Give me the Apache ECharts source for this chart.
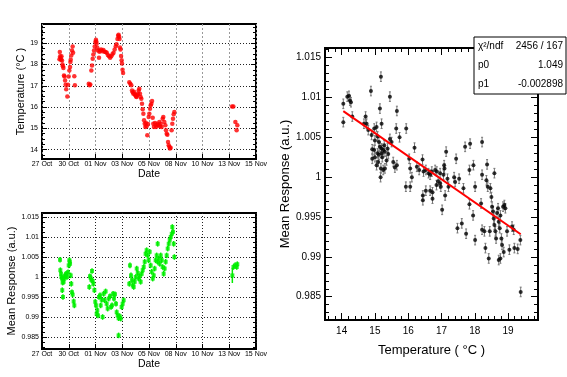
<!DOCTYPE html>
<html>
<head>
<meta charset="utf-8">
<script src="https://cdn.jsdelivr.net/npm/echarts@6/dist/echarts.min.js"></script>
<style>
  html, body { margin: 0; padding: 0; background: #fff; }
  #chart { width: 567px; height: 377px; }
</style>
</head>
<body>
<div id="chart"></div>
<script>
  // date axis: 9 labels, evenly spaced over 19 days
  const dateLabels = ["27 Oct", "30 Oct", "01 Nov", "03 Nov", "05 Nov", "08 Nov", "10 Nov", "13 Nov", "15 Nov"];
  const dateSpan = 19;
  const tempTicks = [14, 15, 16, 17, 18, 19];
  const respTicks = [0.985, 0.99, 0.995, 1, 1.005, 1.01, 1.015];

  // temperature vs time (days since 27 Oct)
  const tempDays = [
    1.55, 1.58, 1.61, 1.65, 1.69, 1.73, 1.78, 1.82, 1.86, 1.90, 1.95, 2.00, 2.05, 2.10, 2.15, 2.25, 2.31, 2.37, 2.43, 2.49,
    2.52, 2.55, 2.60, 2.66, 2.72, 2.76, 2.87, 2.92,
    4.15, 4.23, 4.29, 4.38, 4.44, 4.50, 4.56, 4.62, 4.68, 4.74, 4.79, 4.82, 4.85, 4.91, 4.97, 5.06, 5.10, 5.15, 5.25, 5.35,
    5.45, 5.55, 5.65, 5.75, 5.85, 5.95, 6.05, 6.15, 6.25, 6.35, 6.45, 6.55, 6.62, 6.70, 6.76, 6.80, 6.85, 6.88, 6.92, 6.97,
    7.02, 7.07, 7.10, 7.15, 7.20,
    7.75, 7.84, 7.93, 7.99, 8.05, 8.11, 8.17, 8.23, 8.29, 8.35, 8.40, 8.46, 8.52, 8.58, 8.64, 8.70, 8.76, 8.82, 8.88, 8.94,
    9.00, 9.06, 9.12, 9.18, 9.23, 9.29, 9.35, 9.41, 9.47, 9.53, 9.59, 9.65, 9.71, 9.77, 9.83, 9.88, 9.94, 10.03, 10.12, 10.18,
    10.24, 10.33, 10.42, 10.48, 10.54, 10.62, 10.71, 10.77, 10.86, 10.95, 11.01, 11.07, 11.13, 11.19, 11.25, 11.31, 11.36, 11.42, 11.51, 11.57,
    11.63, 11.69, 11.75,
    16.87, 16.99, 17.17, 17.28, 17.34
  ];
  const tempVals = [
    18.25, 18.58, 18.39, 18.3, 18.22, 18.38, 18.19, 18.0, 17.91, 17.83, 17.48, 17.44, 17.25, 17.05, 16.84, 16.5, 17.05, 17.44, 17.72, 17.88,
    18.11, 18.22, 18.42, 18.66, 18.84, 18.55, 17.45, 17.02,
    17.09, 17.02, 17.06, 17.72, 17.95, 18.27, 18.47, 18.66, 18.84, 19.05, 19.16, 19.08, 18.97, 18.78, 18.65, 18.31, 18.6, 18.65, 18.7, 18.62,
    18.68, 18.6, 18.58, 18.55, 18.45, 18.38, 18.32, 18.38, 18.48, 18.55, 18.7, 18.85, 18.95, 19.2, 19.35, 19.4, 19.3, 19.2, 18.8, 18.7,
    18.4, 18.2, 18.05, 17.75, 17.6,
    17.17, 17.09, 17.02, 16.78, 16.7, 16.63, 16.72, 16.6, 16.55, 16.5, 16.47, 16.55, 16.63, 16.78, 16.86, 16.62, 16.47, 16.39, 16.16, 15.9,
    15.69, 15.38, 15.22, 15.06, 15.25, 15.1, 14.67, 15.2, 15.53, 15.69, 15.92, 16.08, 16.16, 16.28, 15.5, 15.22, 15.06, 15.25, 15.06, 15.15,
    15.22, 15.14, 15.3, 15.1, 15.22, 15.06, 15.45, 15.53, 15.3, 15.14, 14.91, 14.75, 14.7, 14.36, 14.2, 14.13, 14.05, 14.09, 14.91, 15.22,
    15.45, 15.66, 15.77,
    16.02, 16.03, 15.3, 14.91, 15.15
  ];

  // mean response vs time
  const respDays = [
    1.60, 1.63, 1.69, 1.72, 1.78, 1.80, 1.83, 1.86, 1.92, 1.98, 2.04, 2.07, 2.13, 2.22, 2.31, 2.37, 2.43, 2.46, 2.49, 2.55,
    2.60, 2.66, 2.72, 2.81, 2.87,
    4.20, 4.26, 4.32, 4.38, 4.44, 4.50, 4.56, 4.65, 4.73, 4.79, 4.85, 4.91, 4.97, 5.06, 5.15, 5.21, 5.30, 5.38, 5.47, 5.56,
    5.65, 5.74, 5.83, 5.92, 6.04, 6.13, 6.22, 6.31, 6.39, 6.48, 6.57, 6.63, 6.72, 6.80, 6.80, 6.90, 6.99, 7.07, 7.16, 7.25,
    7.75, 7.81, 7.90, 7.99, 8.05, 8.14, 8.23, 8.32, 8.41, 8.50, 8.58, 8.67, 8.76, 8.85, 8.94, 9.03, 9.12, 9.20, 9.29, 9.38,
    9.47, 9.56, 9.65, 9.74, 9.83, 9.92, 10.00, 10.09, 10.18, 10.27, 10.27, 10.36, 10.45, 10.54, 10.63, 10.71, 10.80, 10.89, 10.98, 11.07,
    11.16, 11.25, 11.34, 11.43, 11.52, 11.57, 11.63, 11.69, 11.75,
    17.00, 17.14, 17.29, 17.34
  ];
  const respVals = [
    1.0043, 1.0017, 1.0008, 1.0000, 0.9996, 0.9967, 0.9986, 0.9950, 0.9988, 0.9996, 1.0002, 1.0004, 1.0008, 1.0000, 1.0012, 1.0029, 1.0042, 1.0038, 1.0033, 1.0004,
    0.9983, 0.9962, 0.9956, 0.9939, 0.9929,
    0.9975, 1.0002, 0.9998, 0.9993, 1.0015, 0.9990, 0.9983, 0.9967, 0.9938, 0.9929, 0.9908, 0.9917, 0.9904, 0.9950, 0.9954, 0.9929, 0.9943, 0.9900, 0.9958, 0.9942,
    0.9964, 0.9933, 0.9921, 0.9946, 0.9952, 0.9925, 0.9929, 0.9958, 0.9946, 0.9957, 0.9933, 0.9912, 0.9904, 0.9897, 0.9854, 0.9902, 0.9896, 0.9925, 0.9933, 0.9942,
    0.9983, 1.0029, 1.0004, 0.9992, 0.9979, 0.9975, 0.9988, 1.0000, 1.0021, 1.0010, 0.9996, 1.0002, 0.9988, 1.0008, 1.0017, 1.0025, 1.0038, 1.0058, 1.0067, 1.0054,
    1.0042, 1.0063, 1.0029, 1.0013, 0.9996, 1.0004, 1.0021, 1.0042, 1.0054, 1.0038, 1.0083, 1.0046, 1.0033, 1.0054, 1.0042, 1.0025, 1.0008, 1.0021, 1.0038, 1.0054,
    1.0071, 1.0083, 1.0093, 1.0100, 1.0108, 1.0125, 1.0113, 1.0083, 1.0050,
    1.0025, 1.0029, 1.0025, 1.0032
  ];
  const respErr = 0.0007;
  // one late point with a much wider error bar
  const wideDay = 16.90, wideVal = 1.0004, wideErr = 0.0019;

  // mean response vs temperature
  const scatTemp = [
    14.05, 14.05, 14.17, 14.22, 14.25, 14.28, 14.32, 14.67, 14.72, 14.75, 14.80, 14.88, 14.90, 14.98, 15.00, 15.05, 15.08, 15.15, 15.18, 15.20,
    15.12, 15.15, 14.98, 14.92, 15.00, 15.08, 15.20, 15.25, 15.30, 15.28, 15.20, 15.38, 14.92, 15.05, 15.18, 15.17, 15.25, 15.30, 15.10, 15.35,
    15.40, 15.22, 15.12, 15.45, 15.66, 15.64, 15.74, 15.66, 15.45, 15.50, 15.55, 15.60, 15.94, 16.19, 16.03, 16.43, 16.06, 16.26, 16.33, 16.46,
    16.53, 16.61, 16.71, 16.81, 16.11, 15.93, 16.06, 16.44, 16.44, 16.53, 16.66, 16.73, 16.73,
    16.66, 16.86, 16.96, 16.98, 17.02, 17.08, 17.06, 17.11, 17.14, 17.18, 17.21, 17.38, 17.41, 17.44, 17.48, 17.53, 17.61, 17.66, 17.71, 17.74,
    17.84, 17.86, 17.84, 17.96, 17.95, 18.01, 18.01, 18.19, 18.22, 18.22, 18.22, 18.29, 18.32, 18.35, 18.37, 18.39, 18.42, 18.45, 18.47, 18.50,
    18.52, 18.55, 18.57, 18.59, 18.59, 18.62, 18.64, 18.67, 18.70, 18.72, 18.75, 18.77, 18.77, 18.80, 18.82, 18.85, 18.87, 18.89, 18.92, 18.97,
    19.04, 19.12, 19.17, 19.19, 19.29, 19.37, 19.38, 18.72, 17.09, 16.96, 16.90, 16.85
  ];
  const scatResp = [
    1.0092, 1.0069, 1.0101, 1.0102, 1.0096, 1.0094, 1.0076, 1.0067, 1.0076, 1.0067, 1.0059, 1.0108, 1.0053, 1.0061, 1.0046, 1.0063, 1.0051, 1.0086, 1.0126, 1.0067,
    1.0044, 1.0038, 1.0034, 1.0035, 1.0025, 1.0030, 1.0036, 1.0034, 1.0032, 1.0040, 1.0030, 1.0036, 1.0023, 1.0015, 1.0011, 1.0000, 1.0009, 1.0011, 1.0019, 1.0021,
    1.0029, 1.0025, 1.0028, 1.0101, 1.0083, 1.0061, 1.0050, 1.0015, 1.0048, 1.0044, 1.0019, 1.0012, 1.0061, 1.0037, 1.0023, 1.0022, 1.0011, 1.0013, 1.0009, 1.0007,
    1.0009, 1.0005, 1.0007, 1.0009, 1.0000, 0.9988, 0.9988, 0.9977, 0.9971, 0.9983, 0.9983, 0.9973, 0.9981,
    1.0003, 1.0007, 0.9992, 0.9988, 0.9959, 1.0015, 1.0003, 0.9977, 1.0032, 0.9998, 0.9988, 1.0000, 0.9994, 1.0023, 0.9936, 0.9998, 0.9942, 0.9986, 1.0038, 0.9929,
    1.0009, 1.0042, 0.9966, 1.0015, 0.9952, 0.9988, 0.9921, 0.9967, 1.0044, 1.0003, 0.9934, 0.9932, 0.9911, 0.9996, 1.0016, 0.9988, 0.9898, 0.9932, 0.9986, 0.9975,
    0.9963, 0.9957, 0.9948, 1.0005, 0.9940, 0.9932, 0.9923, 0.9955, 0.9961, 0.9944, 0.9936, 0.9952, 0.9898, 0.9923, 0.9915, 0.9963, 0.9906, 0.9965, 0.9961, 0.9932,
    0.9909, 0.9938, 0.9934, 0.9911, 0.9910, 0.9921, 0.9856, 0.9896, 1.0011, 1.0005, 0.9995, 0.9990
  ];
  const scatErr = 0.0006;

  // linear fit result
  const fitP0 = 1.049;
  const fitP1 = -0.002898;
  const fitRange = [14.05, 19.38];
  const statRows = [
    ["χ²/ndf", "2456 / 167"],
    ["p0", "1.049"],
    ["p1", "-0.002898"]
  ];

  const FONT = "Liberation Sans, Arial, Helvetica, sans-serif";
  const dateStep = dateSpan / (dateLabels.length - 1);
  const dateTicks = dateLabels.map((_, i) => i * dateStep);
  const numFmt = (v) => String(parseFloat(Number(v).toFixed(4)));

  function steps(a, b, s) {
    const out = [];
    for (let v = a; v <= b + 1e-9; v += s) out.push(parseFloat(v.toFixed(6)));
    return out;
  }

  // axis that only draws inside ticks (ROOT style frame ticks)
  function tickAxis(gridIndex, position, min, max, values, len) {
    return {
      type: "value", gridIndex, position, min, max,
      axisLine: { show: false, onZero: false },
      axisLabel: { show: false },
      splitLine: { show: false },
      axisTick: { show: true, inside: true, length: len, customValues: values, lineStyle: { color: "#000", width: 1 } }
    };
  }

  function mainAxis(gridIndex, position, min, max, values, fmt, fontSize, margin, name, nameSize, nameGap, tickLen, split) {
    return {
      type: "value", gridIndex, position, min, max,
      axisLine: { show: false, onZero: false },
      axisTick: { show: true, inside: true, length: tickLen, customValues: values, lineStyle: { color: "#000", width: 1 } },
      axisLabel: {
        customValues: values, formatter: fmt, fontSize, margin,
        color: "#000", fontFamily: FONT
      },
      splitLine: split ? { show: true, lineStyle: split } : { show: false },
      name, nameLocation: "middle", nameGap,
      nameTextStyle: { fontSize: nameSize, fontFamily: FONT, color: "#000" }
    };
  }

  const dateFmt = (v) => dateLabels[Math.round(v / dateStep)];
  const gridDotted = { color: "#222", type: [1, 2], width: 1 };
  const gridDashed = { color: "#999", type: [2, 2], width: 1 };

  const xAxis = [
    mainAxis(0, "bottom", 0, dateSpan, dateTicks, dateFmt, 7, 2, "Date", 10.5, 9, 5, gridDashed),
    mainAxis(1, "bottom", 0, dateSpan, dateTicks, dateFmt, 7, 2, "Date", 10.5, 9, 5, gridDotted),
    mainAxis(2, "bottom", 13.5, 19.9, tempTicks, numFmt, 10, 6, "Temperature ( °C )", 13, 24, 7, null),
    tickAxis(2, "bottom", 13.5, 19.9, steps(13.6, 19.8, 0.2), 4),
    tickAxis(2, "top", 13.5, 19.9, tempTicks, 7),
    tickAxis(2, "top", 13.5, 19.9, steps(13.6, 19.8, 0.2), 4)
  ];

  const yAxis = [
    mainAxis(0, "left", 13.56, 19.9, tempTicks, numFmt, 7, 4, "Temperature (°C )", 11, 16, 5, gridDotted),
    tickAxis(0, "left", 13.56, 19.9, steps(13.75, 19.75, 0.25), 3),
    tickAxis(0, "right", 13.56, 19.9, tempTicks, 5),
    tickAxis(0, "right", 13.56, 19.9, steps(13.75, 19.75, 0.25), 3),
    mainAxis(1, "left", 0.982, 1.016, respTicks, numFmt, 7, 3, "Mean Response (a.u.)", 11, 20, 5, gridDotted),
    tickAxis(1, "left", 0.982, 1.016, steps(0.9825, 1.01575, 0.00125), 3),
    tickAxis(1, "right", 0.982, 1.016, respTicks, 5),
    tickAxis(1, "right", 0.982, 1.016, steps(0.9825, 1.01575, 0.00125), 3),
    mainAxis(2, "left", 0.98208, 1.0162, respTicks, numFmt, 10, 4, "Mean Response (a.u.)", 13, 30, 7, null),
    tickAxis(2, "left", 0.98208, 1.0162, steps(0.983, 1.016, 0.001), 4),
    tickAxis(2, "right", 0.98208, 1.0162, respTicks, 7),
    tickAxis(2, "right", 0.98208, 1.0162, steps(0.983, 1.016, 0.001), 4)
  ];

  function errorBars(color, width, cap) {
    return function (params, api) {
      const x = api.value(0), y = api.value(1), e = api.value(2);
      const lo = api.coord([x, y - e]);
      const hi = api.coord([x, y + e]);
      const children = [{
        type: "line",
        shape: { x1: lo[0], y1: lo[1], x2: hi[0], y2: hi[1] },
        style: { stroke: color, lineWidth: width }
      }];
      if (cap) {
        children.push(
          { type: "line", shape: { x1: lo[0] - cap, y1: lo[1], x2: lo[0] + cap, y2: lo[1] }, style: { stroke: color, lineWidth: 1 } },
          { type: "line", shape: { x1: hi[0] - cap, y1: hi[1], x2: hi[0] + cap, y2: hi[1] }, style: { stroke: color, lineWidth: 1 } }
        );
      }
      return { type: "group", children };
    };
  }

  const tempData = tempDays.map((d, i) => [d, tempVals[i]]);
  const respData = respDays.map((d, i) => [d, respVals[i], respErr]).concat([[wideDay, wideVal, wideErr]]);
  const scatData = scatTemp.map((t, i) => [t, scatResp[i], scatErr]);
  const fitData = fitRange.map((t) => [t, fitP0 + fitP1 * t]);

  const frame = { show: true, borderColor: "#000", borderWidth: 2, backgroundColor: "#fff" };

  const graphic = [{
    type: "rect", x: 474, y: 37, z: 100,
    shape: { width: 92, height: 57 },
    style: { fill: "#fff", stroke: "#000", lineWidth: 1 }
  }];
  statRows.forEach((row, i) => {
    const y = 46 + i * 19;
    graphic.push(
      { type: "text", x: 478, y, z: 101, style: { text: row[0], font: "10px " + FONT, fill: "#000", verticalAlign: "middle" } },
      { type: "text", x: 563, y, z: 101, style: { text: row[1], font: "10px " + FONT, fill: "#000", align: "right", verticalAlign: "middle" } }
    );
  });

  const chart = echarts.init(document.getElementById("chart"));
  chart.setOption({
    animation: false,
    backgroundColor: "#fff",
    grid: [
      Object.assign({ left: 42, top: 24, width: 214, height: 135 }, frame),
      Object.assign({ left: 42, top: 213, width: 214, height: 136 }, frame),
      Object.assign({ left: 325, top: 48, width: 213, height: 272 }, frame)
    ],
    xAxis,
    yAxis,
    graphic,
    series: [
      {
        type: "scatter", xAxisIndex: 0, yAxisIndex: 0, data: tempData,
        symbol: "circle", symbolSize: 4.5, itemStyle: { color: "#ff0000" }
      },
      {
        type: "custom", xAxisIndex: 1, yAxisIndex: 4, data: respData,
        renderItem: errorBars("#00ee00", 1.5, 0), z: 2
      },
      {
        type: "scatter", xAxisIndex: 1, yAxisIndex: 4, data: respData,
        symbol: "rect", symbolSize: [4, 4], itemStyle: { color: "#00ee00" }, z: 3
      },
      {
        type: "custom", xAxisIndex: 2, yAxisIndex: 8, data: scatData,
        renderItem: errorBars("#777", 1, 1), z: 2
      },
      {
        type: "scatter", xAxisIndex: 2, yAxisIndex: 8, data: scatData,
        symbol: "circle", symbolSize: 4, itemStyle: { color: "#000" }, z: 3
      },
      {
        type: "line", xAxisIndex: 2, yAxisIndex: 8, data: fitData,
        symbol: "none", lineStyle: { color: "#ff0000", width: 2 }, z: 5
      }
    ]
  });
</script>
</body>
</html>
